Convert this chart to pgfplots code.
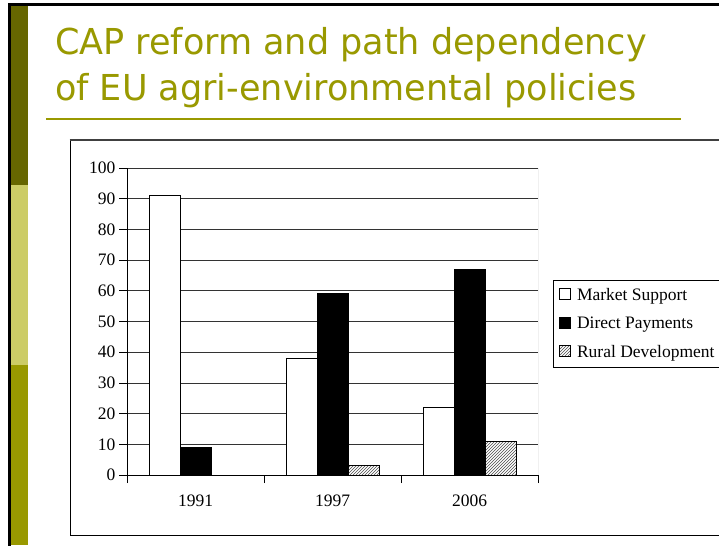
\documentclass[border=0pt]{standalone}
\usepackage{fontspec}
\setmainfont{Liberation Serif}
\newfontfamily\titlefont[FakeStretch=1.09]{DejaVu Sans Condensed}
\usepackage{pgfplots}
\pgfplotsset{compat=1.18}
\usetikzlibrary{patterns}
\definecolor{oliveA}{HTML}{666600}
\definecolor{oliveB}{HTML}{CCCC66}
\definecolor{oliveC}{HTML}{999900}
\begin{document}
\begin{tikzpicture}[x=1pt,y=1pt]
\useasboundingbox (0,0) rectangle (719,546);
\fill[white] (0,0) rectangle (719,546);
% slide decoration
\fill[black] (8,540) rectangle (719,543);
\fill[black] (8,0) rectangle (11,543);
\fill[oliveA] (11,361) rectangle (28,540);
\fill[oliveB] (11,181) rectangle (28,361);
\fill[oliveC] (11,1) rectangle (28,181);
% title
\node[anchor=base west, inner sep=0pt, text=oliveC, font=\titlefont\fontsize{35.7}{40}\selectfont] at (55,491.7) {CAP reform and path dependency};
\node[anchor=base west, inner sep=0pt, text=oliveC, font=\titlefont\fontsize{35.7}{40}\selectfont] at (55,445) {of EU agri-environmental policies};
\draw[oliveC, line width=1.5pt] (46,427) -- (681,427);
% chart frame
\draw[black, line width=1pt] (70,11) -- (70,406);
\draw[black, line width=1pt] (70,11) -- (719,11);
\draw[black!75, line width=2pt] (69.5,406) -- (719,406);
\begin{axis}[
  at={(127pt,71pt)}, anchor=south west,
  scale only axis, width=411pt, height=307pt,
  ybar=0pt, bar width=31pt,
  xmin=-0.5, xmax=2.5, ymin=0, ymax=100,
  axis lines*=left,
  axis line style={-, black, line width=0.8pt},
  ytick={0,10,...,100},
  ymajorgrids,
  grid style={black!80, line width=0.7pt},
  tick align=outside,
  major tick length=8pt,
  tick style={black, line width=0.8pt},
  xtick={-0.5,0.5,1.5,2.5}, xticklabels={},
  extra x ticks={0,1,2},
  extra x tick labels={1991,1997,2006},
  extra x tick style={major tick length=0pt, grid=none, tick label style={yshift=-16pt}},
  font=\fontsize{17.5}{21}\selectfont,
  /pgf/number format/assume math mode=true,
  legend style={at={(1.0365,0.6352)}, anchor=north west, draw=black, line width=0.8pt,
    inner xsep=6pt, inner ysep=6pt, row sep=10.5pt,
    font=\fontsize{17.5}{21}\selectfont,
    nodes={inner sep=0pt, text height=14pt, text depth=4pt},
    /tikz/every odd column/.append style={column sep=6pt}},
  legend cell align=left,
  legend image code/.code={\draw[#1, draw=black, line width=0.6pt] (0pt,-4pt) rectangle (11pt,7pt);},
]
\addplot[draw=black, line width=0.8pt, fill=white] coordinates {(0,91) (1,38) (2,22)};
\addplot[draw=black, line width=0.8pt, fill=black] coordinates {(0,9) (1,59) (2,67)};
\addplot[draw=black, line width=0.8pt, fill=white, postaction={pattern=north east lines, pattern color=black!70}] coordinates {(1,3) (2,11)};
\legend{Market Support, Direct Payments, Rural Development}
\draw[black!45, line width=0.8pt] (axis cs:2.5,0) -- (axis cs:2.5,100);
\end{axis}
\end{tikzpicture}
\end{document}
